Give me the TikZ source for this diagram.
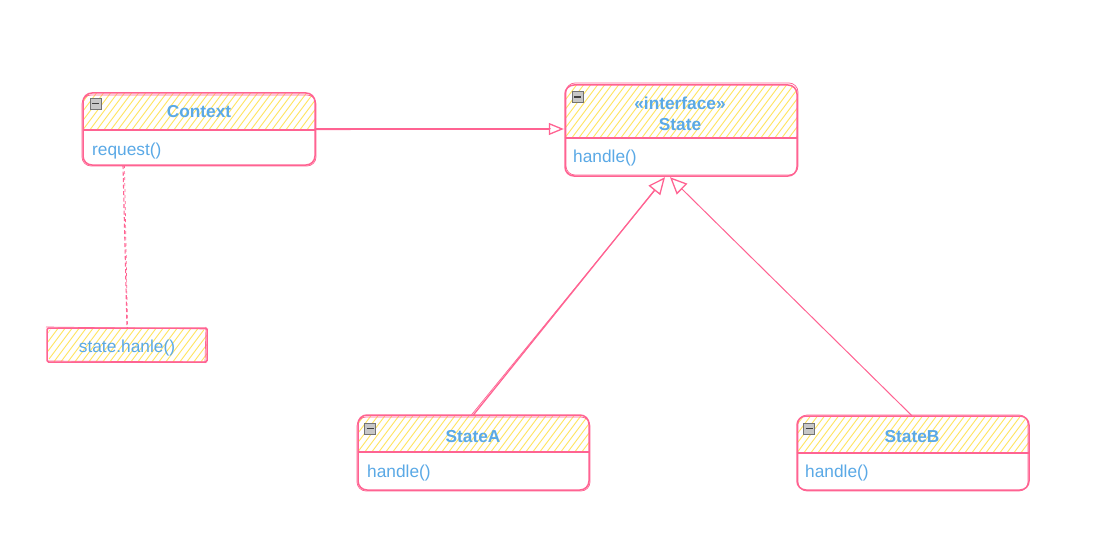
\documentclass[tikz,border=0pt]{standalone}
\usepackage{fontspec}
\setmainfont{Liberation Sans}
\usetikzlibrary{arrows.meta,calc}
\definecolor{pk}{HTML}{FF6392}
\definecolor{yl}{HTML}{FFE45E}
\definecolor{bl}{HTML}{5AA9E6}
\tikzset{
 classbox/.style={draw=pk, line width=1.5pt, rounded corners=9pt, inner sep=0pt},
 notebox/.style={draw=pk, line width=1.5pt, rounded corners=1.5pt, inner sep=0pt},
 sketch/.style={draw=pk, line width=0.7pt, rounded corners=9pt},
 divider/.style={draw=pk, line width=1.5pt},
 hatchline/.style={draw=yl, line width=0.9pt},
 titletext/.style={text=bl, font=\fontsize{17.3}{20}\selectfont\bfseries, inner sep=0pt},
 membertext/.style={text=bl, font=\fontsize{17.3}{20}\selectfont, inner sep=0pt},
 conn/.style={draw=pk, line width=1.3pt},
 thin/.style={draw=pk, line width=0.7pt},
 inh/.style={conn, -{Triangle[open, length=17pt, width=15pt, line width=1.3pt]}},
 assoc/.style={conn, -{Triangle[open, length=15pt, width=12pt, line width=1.3pt]}},
 icon/.style={draw=black!55, fill=black!22, line width=0.6pt, minimum size=11pt, inner sep=0pt},
}
\newcommand\hatchhead[2]{%
 \begin{scope}
  \clip (#1.north west) rectangle (#1.east |- 0,#2);
  \clip[rounded corners=9pt] (#1.north west) rectangle (#1.south east);
  \path (#1.west |- 0,#2) coordinate (hb);
  \foreach \k in {-70,-63,...,250}{\draw[hatchline] ([xshift=\k pt]hb) -- ++(45,-60);}
 \end{scope}}
\begin{document}
\begin{tikzpicture}[x=1pt,y=-1pt]
\useasboundingbox[fill=white] (0,0) rectangle (1093,551);

% ---------- Context ----------
\path node[minimum width=232pt, minimum height=72pt, inner sep=0pt] (ctx) at (199,129) {};
\hatchhead{ctx}{130}
\node[classbox, minimum width=232pt, minimum height=72pt] at (ctx) {};
\draw[sketch] (82,95) rectangle (316,166);
\draw[divider] (ctx.west |- 0,130) -- (ctx.east |- 0,130);
\node[icon] (ctxicon) at (95.5,103.5) {};
\draw[black!75, line width=1.1pt] ([xshift=2.3pt]ctxicon.west) -- ([xshift=-2.3pt]ctxicon.east);
\node[titletext] (ctxt) at (199,112) {Context};
\node[membertext, anchor=west] (ctxm) at (92,151.5) {request()};

% ---------- State ----------
\path node[minimum width=232pt, minimum height=91pt, inner sep=0pt] (st) at (681,130.5) {};
\hatchhead{st}{138}
\node[classbox, minimum width=232pt, minimum height=91pt] at (st) {};
\draw[sketch] (566,83) rectangle (798,175);
\draw[divider] (st.west |- 0,138) -- (st.east |- 0,138);
\node[icon] (sticon) at (577.5,97) {};
\draw[black!75, line width=1.1pt] ([xshift=2.3pt]sticon.west) -- ([xshift=-2.3pt]sticon.east);
\node[titletext] (stt1) at (680,103.5) {«interface»};
\node[titletext] (stt2) at (680,125) {State};
\node[membertext, anchor=west] (stm) at (573,158.5) {handle()};

% ---------- StateA ----------
\path node[minimum width=231pt, minimum height=75pt, inner sep=0pt] (sa) at (473.5,452.5) {};
\hatchhead{sa}{452}
\node[classbox, minimum width=231pt, minimum height=75pt] at (sa) {};
\draw[sketch] (357,417) rectangle (590,491);
\draw[divider] (sa.west |- 0,452) -- (sa.east |- 0,452);
\node[icon] (saicon) at (370,428.5) {};
\draw[black!75, line width=1.1pt] ([xshift=2.3pt]saicon.west) -- ([xshift=-2.3pt]saicon.east);
\node[titletext] (sat) at (473,437) {StateA};
\node[membertext, anchor=west] (sam) at (367,473.5) {handle()};

% ---------- StateB ----------
\path node[minimum width=232pt, minimum height=74pt, inner sep=0pt] (sb) at (913,453) {};
\hatchhead{sb}{453}
\node[classbox, minimum width=232pt, minimum height=74pt] at (sb) {};
\draw[sketch] (798,415) rectangle (1028,491);
\draw[divider] (sb.west |- 0,453) -- (sb.east |- 0,453);
\node[icon] (sbicon) at (809,428.5) {};
\draw[black!75, line width=1.1pt] ([xshift=2.3pt]sbicon.west) -- ([xshift=-2.3pt]sbicon.east);
\node[titletext] (sbt) at (912,437) {StateB};
\node[membertext, anchor=west] (sbm) at (805,473.5) {handle()};

% ---------- note ----------
\path node[minimum width=160pt, minimum height=34pt, inner sep=0pt] (note) at (127,345) {};
\hatchhead{note}{362}
\node[notebox, minimum width=160pt, minimum height=34pt] at (note) {};
\draw[thin] (46,327) -- (208,329) (206,327) -- (205,363) (48,361) -- (207,362);
\node[membertext] (notet) at (127,348) {state.hanle()};

% ---------- connectors ----------
\coordinate (ctxdash) at (ctx.south -| 123,0);
\draw[conn, line width=1.1pt, dash pattern=on 4pt off 2.5pt] (ctxdash) -- (note.north);
\draw[thin, dash pattern=on 3pt off 3pt] ([xshift=1.5pt]ctxdash) -- ([xshift=0.5pt]note.north);

\coordinate (stin) at (ctx.east -| st.west);
\draw[assoc] (ctx.east) -- ([xshift=-1pt]stin);
\draw[thin] ([yshift=-0.8pt]ctx.east) -- ([xshift=-14pt,yshift=0.2pt]stin);

\coordinate (stA) at ([xshift=-16pt,yshift=-1pt]st.south);
\coordinate (stB) at ([xshift=-11pt,yshift=-1pt]st.south);
\draw[inh] (sa.north) -- (stA);
\draw[thin] ([xshift=-2pt]sa.north) -- ([xshift=-10pt,yshift=-13pt]stA);
\draw[inh, line width=1pt] ([xshift=-1pt]sb.north) -- (stB);
\end{tikzpicture}
\end{document}
